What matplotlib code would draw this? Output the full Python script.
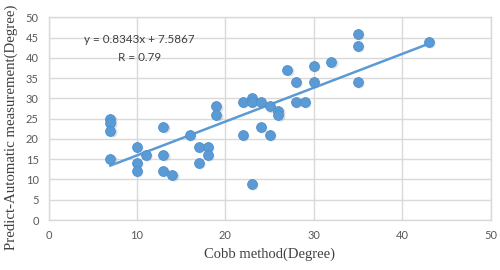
import matplotlib
matplotlib.use("Agg")
import matplotlib.pyplot as plt
import numpy as np

cobb = [7, 7, 7, 7, 10, 10, 10, 11, 13, 13, 13, 14, 16, 17, 17, 18, 18, 19, 19,
        22, 22, 23, 23, 23, 24, 24, 25, 25, 26, 26, 27, 28, 28, 29, 30, 30, 32,
        35, 35, 35, 43]
predicted = [25, 24, 22, 15, 18, 14, 12, 16, 23, 16, 12, 11, 21, 18, 14, 18, 16, 28, 26,
             29, 21, 30, 29, 9, 29, 23, 28, 21, 27, 26, 37, 34, 29, 29, 38, 34, 39,
             46, 43, 34, 44]
slope = 0.8343
intercept = 7.5867
r_value = 0.79
x_ticks = [0, 10, 20, 30, 40, 50]
y_ticks = [0, 5, 10, 15, 20, 25, 30, 35, 40, 45, 50]

fig = plt.figure(figsize=(5, 2.7), dpi=100)
ax = fig.add_axes([0.097, 0.185, 0.884, 0.751])

blue = "#5b9bd5"
grid = "#d9d9d9"

ax.set_xlim(0, 50)
ax.set_ylim(0, 50)
ax.set_xticks(x_ticks)
ax.set_yticks(y_ticks)
ax.grid(True, color=grid, linewidth=1.0)
ax.set_axisbelow(True)
for s in ax.spines.values():
    s.set_color(grid)
    s.set_linewidth(1.0)
ax.tick_params(length=0, colors="#595959", labelsize=8, pad=7)
for lab in ax.get_xticklabels() + ax.get_yticklabels():
    lab.set_family("Lato")

xs = np.array([min(cobb), max(cobb)])
ax.plot(xs, slope * xs + intercept, color=blue, linewidth=1.8, zorder=2)

# shadow
ax.scatter(np.array(cobb) + 0.15, np.array(predicted) - 0.25, s=52, color="#9aa7b8",
           alpha=0.35, linewidths=0, zorder=2.5)
ax.scatter(cobb, predicted, s=50, color=blue, edgecolors="#4f8fcc",
           linewidths=0.6, zorder=3)

ax.text(10.3, 44.4, f"y = {slope}x + {intercept}", ha="center", va="center",
        fontsize=8.4, color="#404040", family="Lato")
ax.text(10.3, 40.2, f"R = {r_value}", ha="center", va="center",
        fontsize=8.4, color="#404040", family="Lato")

ax.set_xlabel("Cobb method(Degree)", family="Liberation Serif", fontsize=10.5,
              color="#404040", labelpad=5)
ax.set_ylabel("Predict-Automatic measurement(Degree)", family="Liberation Serif",
              fontsize=10.7, color="#404040")
ax.yaxis.set_label_coords(-0.069, 0.455)

fig.savefig("out.png", dpi=100)
